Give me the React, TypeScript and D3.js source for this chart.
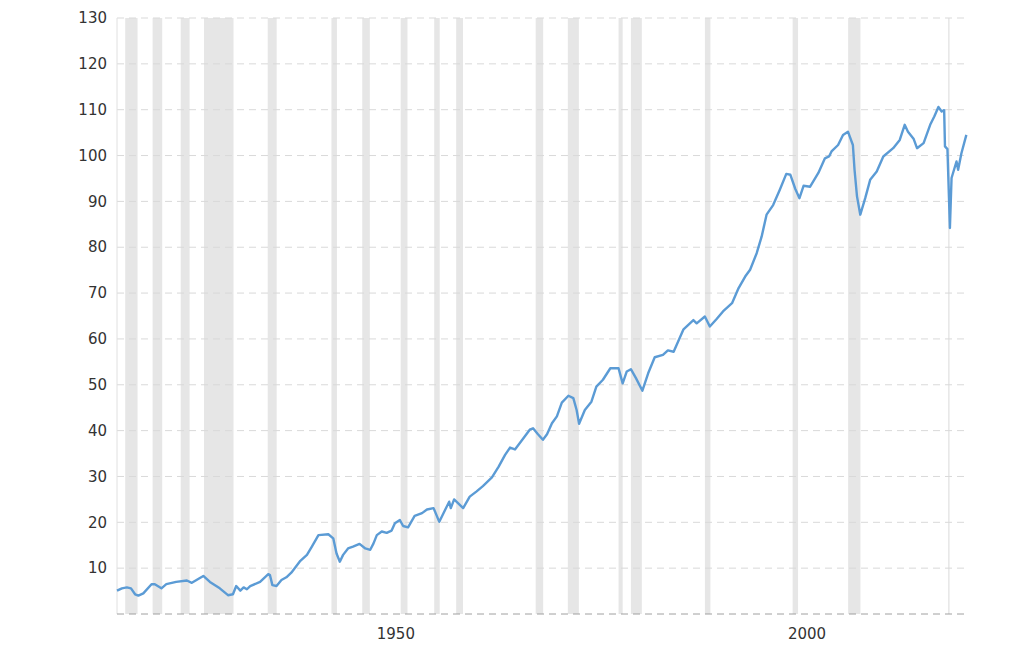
import React from "react";
import * as d3 from "d3";

// Industrial production index (samples)
const years: number[] = [
  1919.0, 1919.6, 1920.2, 1920.7, 1921.2, 1921.6, 1922.2, 1923.2, 1923.6, 1924.4,
  1925.0, 1926.2, 1927.5, 1928.1, 1929.5, 1930.3, 1931.5, 1932.5, 1933.1, 1933.5,
  1934.0, 1934.4, 1934.8, 1935.2, 1936.4, 1937.4, 1937.6, 1937.9, 1938.4, 1939.0,
  1939.6, 1940.2, 1941.3, 1942.1, 1942.7, 1943.5, 1944.7, 1945.3, 1945.7, 1946.1,
  1946.5, 1947.1, 1947.7, 1948.5, 1949.2, 1949.8, 1950.2, 1950.6, 1951.2, 1951.8,
  1952.4, 1952.8, 1953.4, 1953.8, 1954.4, 1955.2, 1956.1, 1956.7, 1957.5, 1958.2,
  1958.9, 1959.4, 1959.6, 1960.0, 1961.1, 1961.9, 1962.7, 1963.5, 1964.6, 1965.4,
  1966.2, 1966.8, 1967.4, 1968.2, 1969.2, 1969.6, 1970.2, 1970.8, 1971.3, 1971.9,
  1972.5, 1973.1, 1973.9, 1974.5, 1974.9, 1975.2, 1975.9, 1976.7, 1977.3, 1978.1,
  1979.0, 1980.0, 1980.5, 1981.0, 1981.5, 1982.1, 1982.9, 1983.6, 1984.4, 1985.4,
  1986.0, 1986.7, 1987.9, 1989.1, 1989.5, 1990.5, 1991.1, 1991.9, 1992.7, 1993.8,
  1994.6, 1995.4, 1996.0, 1996.8, 1997.4, 1998.0, 1998.8, 1999.6, 2000.4, 2000.9,
  2001.5, 2002.0, 2002.5, 2003.3, 2004.3, 2005.1, 2005.6, 2005.9, 2006.7, 2007.3,
  2007.9, 2008.5, 2008.7, 2009.0, 2009.4, 2010.0, 2010.6, 2011.4, 2012.2, 2013.4,
  2014.2, 2014.8, 2015.2, 2015.9, 2016.3, 2017.1, 2017.9, 2018.4, 2018.9, 2019.3,
  2019.6, 2019.7, 2020.0, 2020.3, 2020.5, 2021.1, 2021.3, 2021.7, 2022.3,
];

const production: number[] = [
  5.1, 5.6, 5.8, 5.6, 4.3, 4.0, 4.5, 6.5, 6.5, 5.6,
  6.5, 7.0, 7.3, 6.8, 8.3, 7.0, 5.6, 4.1, 4.3, 6.1,
  5.1, 5.8, 5.4, 6.1, 7.0, 8.7, 8.5, 6.3, 6.1, 7.4,
  8.0, 9.0, 11.6, 12.9, 14.7, 17.2, 17.4, 16.5, 13.2, 11.4,
  12.9, 14.3, 14.7, 15.3, 14.3, 14.0, 15.4, 17.2, 18.0, 17.7,
  18.2, 19.8, 20.5, 19.2, 18.9, 21.4, 22.0, 22.8, 23.1, 20.1,
  22.7, 24.5, 23.1, 25.0, 23.1, 25.6, 26.7, 27.9, 29.8, 32.1,
  34.7, 36.3, 35.9, 37.8, 40.2, 40.5, 39.2, 38.0, 39.2, 41.6,
  43.1, 46.1, 47.6, 47.1, 44.5, 41.5, 44.5, 46.3, 49.6, 51.1,
  53.6, 53.6, 50.3, 52.9, 53.4, 51.5, 48.7, 52.5, 56.0, 56.5,
  57.5, 57.2, 62.1, 64.1, 63.4, 64.9, 62.7, 64.3, 66.0, 67.8,
  71.1, 73.6, 75.1, 78.7, 82.3, 87.1, 89.2, 92.5, 96.0, 95.8,
  92.7, 90.7, 93.4, 93.2, 96.2, 99.4, 99.8, 100.9, 102.3, 104.5,
  105.2, 102.3, 96.9, 91.1, 87.1, 90.7, 94.7, 96.5, 99.8, 101.6,
  103.4, 106.7, 105.2, 103.6, 101.6, 102.7, 106.7, 108.5, 110.6, 109.6,
  109.9, 102.0, 101.4, 84.2, 95.1, 98.7, 96.9, 100.5, 104.5,
];

// NBER recessions (fractional years)
const recessionStarts: number[] = [
  1920.0, 1923.33, 1926.75, 1929.58, 1937.33, 1945.08, 1948.83, 1953.5, 1957.58,
  1960.25, 1969.92, 1973.83, 1980.0, 1981.5, 1990.5, 2001.17, 2007.92, 2020.08,
];
const recessionEnds: number[] = [
  1921.5, 1924.5, 1927.83, 1933.17, 1938.42, 1945.75, 1949.75, 1954.33, 1958.25,
  1961.08, 1970.83, 1975.17, 1980.5, 1982.83, 1991.17, 2001.83, 2009.42, 2020.25,
];

const yTicks: number[] = [10, 20, 30, 40, 50, 60, 70, 80, 90, 100, 110, 120, 130];
const xTicks: number[] = [1950, 2000];

const W = 1024;
const H = 646;
const left = 117;
const right = 968;
const top = 18;
const bottom = 614;

export default function App() {
  const x = d3.scaleLinear().domain([1919, 2022.5]).range([left, right]);
  const y = d3.scaleLinear().domain([0, 130]).range([bottom, top]);

  const pts: [number, number][] = years.map((yr, i) => [yr, production[i]]);
  const line = d3
    .line<[number, number]>()
    .x((d) => x(d[0]))
    .y((d) => y(d[1]))
    .curve(d3.curveLinear);

  const font = "'DejaVu Sans', Verdana, sans-serif";

  return (
    <div style={{ position: "absolute", left: 0, top: 0 }}>
      <svg width={W} height={H} style={{ display: "block", background: "#fff" }}>
        {recessionStarts.map((s, i) => {
          const x0 = x(s);
          const x1 = x(recessionEnds[i]);
          return (
            <rect
              key={"r" + i}
              x={x0}
              y={top}
              width={Math.max(1.5, x1 - x0)}
              height={bottom - top}
              fill="#e6e6e6"
            />
          );
        })}
        {yTicks.map((t) => (
          <line
            key={"g" + t}
            x1={left}
            x2={right}
            y1={y(t)}
            y2={y(t)}
            stroke="#d9d9d9"
            strokeWidth={1}
            strokeDasharray="7,5"
          />
        ))}
        <line x1={left} x2={left} y1={top} y2={bottom} stroke="#e0e0e0" strokeWidth={1} />
        <line
          x1={left}
          x2={right}
          y1={bottom}
          y2={bottom}
          stroke="#a0a0a0"
          strokeWidth={1}
          strokeDasharray="7,5"
        />
        {yTicks.map((t) => (
          <text
            key={"yl" + t}
            x={107}
            y={y(t)}
            dy="0.35em"
            textAnchor="end"
            fontFamily={font}
            fontSize={15}
            fill="#333"
          >
            {t}
          </text>
        ))}
        {xTicks.map((t) => (
          <text
            key={"xl" + t}
            x={x(t) + 24}
            y={639}
            textAnchor="middle"
            fontFamily={font}
            fontSize={15}
            fill="#333"
          >
            {t}
          </text>
        ))}
        <path
          d={line(pts) || ""}
          fill="none"
          stroke="#5b9bd5"
          strokeWidth={2.4}
          strokeLinejoin="round"
        />
      </svg>
    </div>
  );
}
